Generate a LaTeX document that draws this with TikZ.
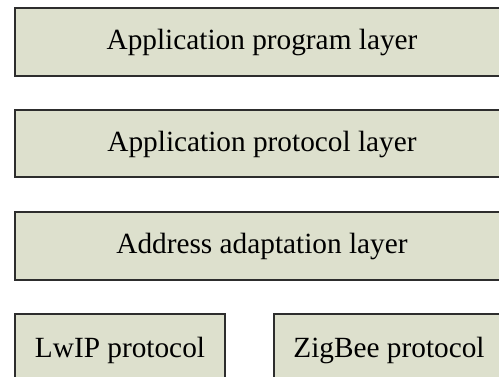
\documentclass[tikz,border=0pt]{standalone}
\usepackage{fontspec}
\setmainfont{Liberation Serif}
\definecolor{layerfill}{RGB}{221,224,205}
\definecolor{layerline}{RGB}{45,45,45}
\tikzset{
  layer/.style={draw=layerline, fill=layerfill, line width=1.2pt},
  label/.style={font=\fontsize{29.3}{34}\selectfont, text=black}
}
\begin{document}
\begin{tikzpicture}[x=1pt,y=-1pt]
\useasboundingbox (0,0) rectangle (499,376);
\clip (0,0) rectangle (499,376);
\fill[white] (0,0) rectangle (499,376);
% stacked layers
\draw[layer] (15,8) rectangle (510,76);
\draw[layer] (15,110) rectangle (510,177);
\draw[layer] (15,212) rectangle (510,280);
\draw[layer] (15,314) rectangle (225,390);
\draw[layer] (274,314) rectangle (505,390);
\node[label] (app) at (262,42.5) {Application program layer};
\node[label] (proto) at (262,144) {Application protocol layer};
\node[label] (addr) at (262,246.5) {Address adaptation layer};
\node[label] (lwip) at (120,350) {LwIP protocol};
\node[label] (zigbee) at (389,350) {ZigBee protocol};
\end{tikzpicture}
\end{document}
